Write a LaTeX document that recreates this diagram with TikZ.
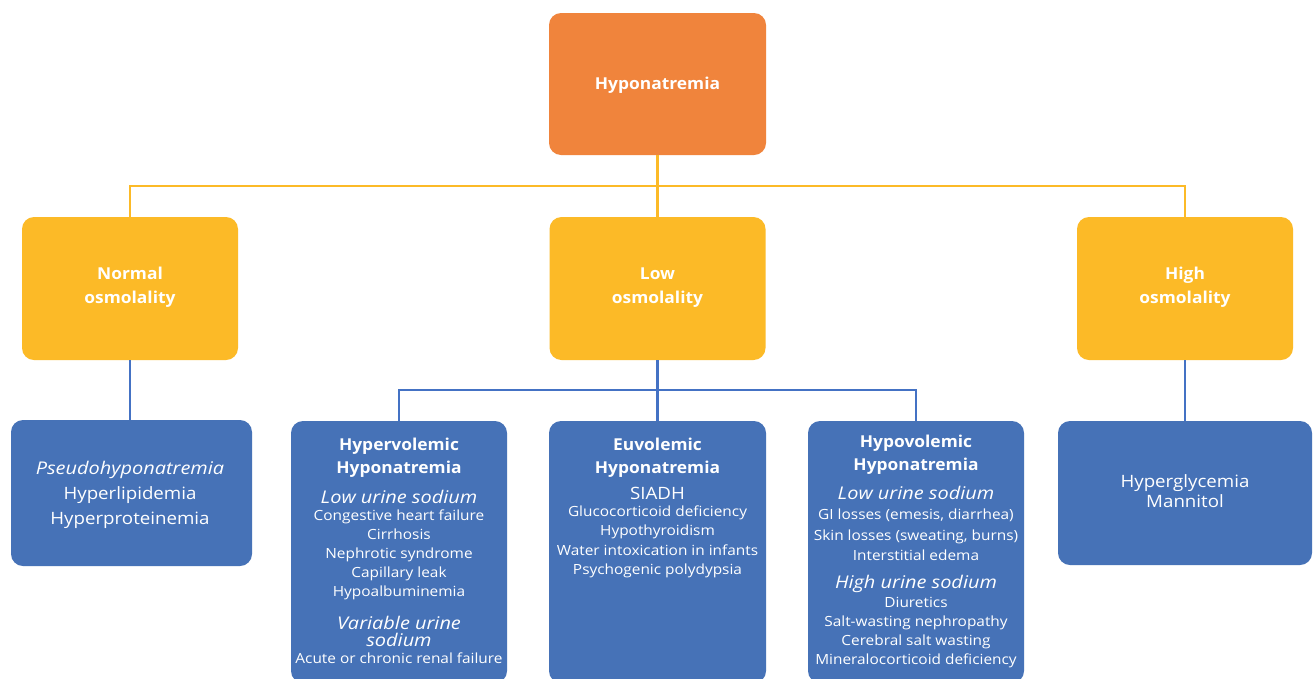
\documentclass[tikz,border=0pt]{standalone}
\usepackage{fontspec}
\setmainfont{Open Sans}[FakeStretch=1.1, BoldFeatures={FakeStretch=1.06}, ItalicFeatures={FakeStretch=1.14}]
\definecolor{orng}{RGB}{240,132,60}
\definecolor{yell}{RGB}{252,186,39}
\definecolor{blu}{RGB}{70,114,183}
\definecolor{bline}{RGB}{68,114,196}
\begin{document}
\begin{tikzpicture}[x=1pt,y=-1pt,
  boxo/.style={fill=orng, rounded corners=12pt, inner sep=0pt, minimum width=217pt},
  boxy/.style={fill=yell, rounded corners=12pt, inner sep=0pt, minimum width=216pt, minimum height=143pt},
  boxb/.style={fill=blu, rounded corners=12pt, inner sep=0pt},
  hd/.style={text=white, anchor=base, inner sep=0pt, font=\bfseries\fontsize{16.4}{17}\selectfont},
  itl/.style={text=white, anchor=base, inner sep=0pt, font=\itshape\fontsize{17.5}{18}\selectfont},
  big/.style={text=white, anchor=base, inner sep=0pt, font=\fontsize{17}{18}\selectfont},
  li/.style={text=white, anchor=base, inner sep=0pt, font=\fontsize{14}{15}\selectfont},
  yl/.style={draw=yell, line width=2.2pt},
  bl/.style={draw=bline, line width=2.2pt}]
\useasboundingbox (0,0) rectangle (1314,678);
\fill[white] (0,0) rectangle (1314,678);
% boxes
\node[boxo, minimum height=142pt] (top) at (657.5,84) {};
\node[boxy] (norm) at (130,288.5) {};
\node[boxy] (low) at (657.5,288.5) {};
\node[boxy] (high) at (1185,288.5) {};
\node[boxb, minimum width=241pt, minimum height=146pt] (pseudo) at (131.5,493) {};
\node[boxb, minimum width=216pt, minimum height=262pt] (hyper) at (399,552) {};
\node[boxb, minimum width=217pt, minimum height=262pt] (euvo) at (657.5,552) {};
\node[boxb, minimum width=216pt, minimum height=262pt] (hypo) at (916,552) {};
\node[boxb, minimum width=254pt, minimum height=144pt] (hglyc) at (1185,493) {};
% connectors
\coordinate (yj) at (657.5,186);
\coordinate (bj) at (657.5,390);
\draw[yl] (top.south) -- (yj);
\draw[yl] (norm.north) |- (yj) -| (high.north);
\draw[yl] (yj) -- (low.north);
\draw[bl] (norm.south) -- (norm.south |- pseudo.north);
\draw[bl] (high.south) -- (high.south |- hglyc.north);
\draw[bl] (low.south) -- (bj);
\draw[bl] (hyper.north) |- (bj) -| (hypo.north);
\draw[bl] (bj) -- (euvo.north);
% texts
\node[hd] (t0) at (657.5,89) {Hyponatremia};
\node[hd] (n1) at (130,279) {Normal};
\node[hd] (n2) at (130,303) {osmolality};
\node[hd] (l1) at (657.5,279) {Low};
\node[hd] (l2) at (657.5,303) {osmolality};
\node[hd] (h1) at (1185,279) {High};
\node[hd] (h2) at (1185,303) {osmolality};
% pseudo
\node[itl] (p1) at (130,474) {Pseudohyponatremia};
\node[big] (p2) at (130,499) {Hyperlipidemia};
\node[big] (p3) at (130,524) {Hyperproteinemia};
% hyperglycemia
\node[big] (g1) at (1185,487) {Hyperglycemia};
\node[big] (g2) at (1185,507) {Mannitol};
% hypervolemic
\node[hd] (a1) at (399,450) {Hypervolemic};
\node[hd] (a2) at (399,473) {Hyponatremia};
\node[itl] (a3) at (399,503) {Low urine sodium};
\node[li] (a4) at (399,520) {Congestive heart failure};
\node[li] (a5) at (399,539) {Cirrhosis};
\node[li] (a6) at (399,558) {Nephrotic syndrome};
\node[li] (a7) at (399,577) {Capillary leak};
\node[li] (a8) at (399,596) {Hypoalbuminemia};
\node[itl] (a9) at (399,629) {Variable urine};
\node[itl] (a10) at (399,646) {sodium};
\node[li] (a11) at (399,663) {Acute or chronic renal failure};
% euvolemic
\node[hd] (e1) at (657.5,450) {Euvolemic};
\node[hd] (e2) at (657.5,473) {Hyponatremia};
\node[big] (e3) at (657.5,499) {SIADH};
\node[li] (e4) at (657.5,516) {Glucocorticoid deficiency};
\node[li] (e5) at (657.5,535) {Hypothyroidism};
\node[li] (e6) at (657.5,555) {Water intoxication in infants};
\node[li] (e7) at (657.5,574) {Psychogenic polydypsia};
% hypovolemic
\node[hd] (v1) at (916,447) {Hypovolemic};
\node[hd] (v2) at (916,470) {Hyponatremia};
\node[itl] (v3) at (916,499) {Low urine sodium};
\node[li] (v4) at (916,519) {GI losses (emesis, diarrhea)};
\node[li] (v5) at (916,540) {Skin losses (sweating, burns)};
\node[li] (v6) at (916,560) {Interstitial edema};
\node[itl] (v7) at (916,588) {High urine sodium};
\node[li] (v8) at (916,607) {Diuretics};
\node[li] (v9) at (916,626) {Salt-wasting nephropathy};
\node[li] (v10) at (916,645) {Cerebral salt wasting};
\node[li] (v11) at (916,664) {Mineralocorticoid deficiency};
\end{tikzpicture}
\end{document}
